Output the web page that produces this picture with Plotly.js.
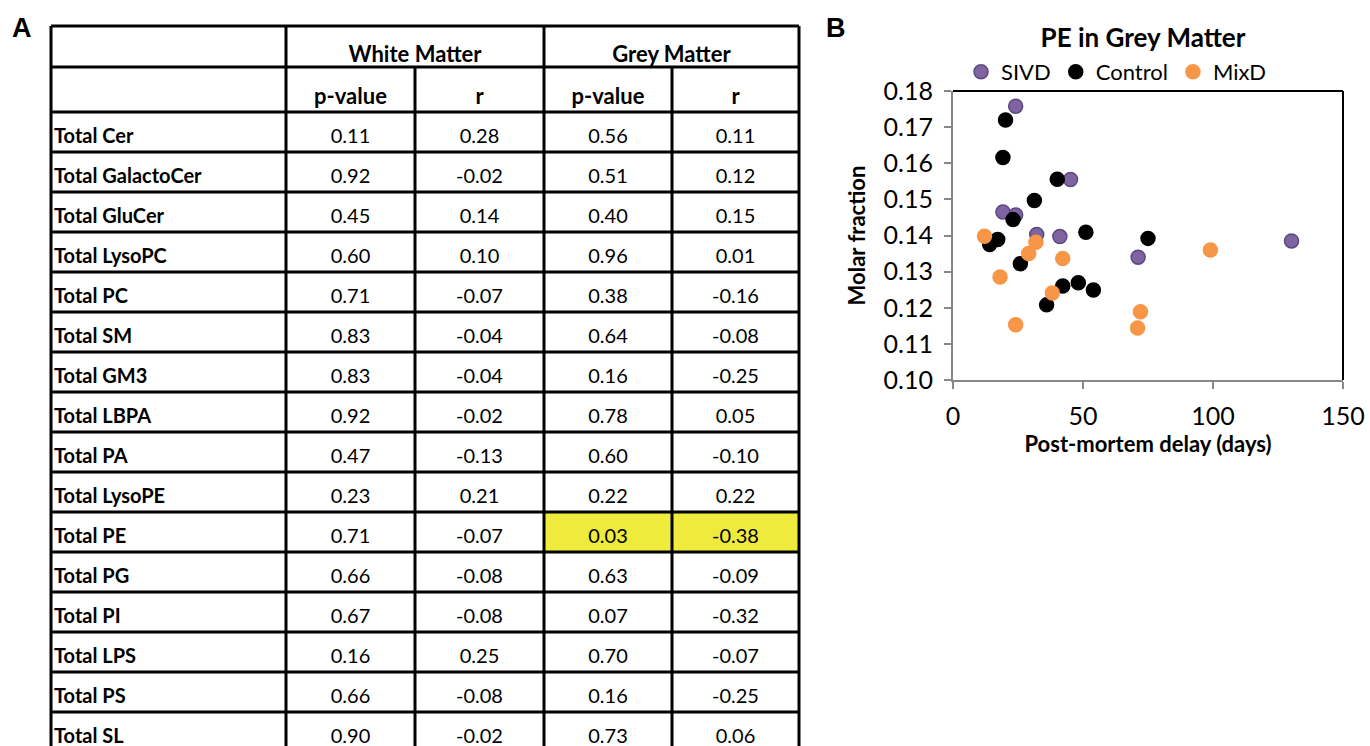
<!DOCTYPE html>
<html>
<head>
<meta charset="utf-8">
<script src="https://cdn.plot.ly/plotly-3.0.1.min.js"></script>
<style>html,body{margin:0;padding:0;overflow:hidden;background:#fff}</style>
</head>
<body>
<div id="chart" style="width:1370px;height:746px"></div>
<script>
// ---- Panel A: table data ----
const lipids = ["Total Cer","Total GalactoCer","Total GluCer","Total LysoPC","Total PC","Total SM","Total GM3","Total LBPA","Total PA","Total LysoPE","Total PE","Total PG","Total PI","Total LPS","Total PS","Total SL"];
const wmP = [0.11,0.92,0.45,0.60,0.71,0.83,0.83,0.92,0.47,0.23,0.71,0.66,0.67,0.16,0.66,0.90];
const wmR = [0.28,-0.02,0.14,0.10,-0.07,-0.04,-0.04,-0.02,-0.13,0.21,-0.07,-0.08,-0.08,0.25,-0.08,-0.02];
const gmP = [0.56,0.51,0.40,0.96,0.38,0.64,0.16,0.78,0.60,0.22,0.03,0.63,0.07,0.70,0.16,0.73];
const gmR = [0.11,0.12,0.15,0.01,-0.16,-0.08,-0.25,0.05,-0.10,0.22,-0.38,-0.09,-0.32,-0.07,-0.25,0.06];
const groupHeaders = ["White Matter","Grey Matter"];
const subHeaders = ["p-value","r","p-value","r"];

// ---- Panel B: scatter data (post-mortem delay in days, molar fraction) ----
const sivdX = [24.1,45.2,19.2,24.1,32.2,41.1,71.2,130.2];
const sivdY = [0.1758,0.1555,0.1465,0.1457,0.1403,0.1397,0.1340,0.1385];
const ctrlX = [20.2,19.2,40.1,31.3,23.1,51.1,17.2,14.1,75.0,25.9,48.2,42.2,54.0,36.0];
const ctrlY = [0.1720,0.1616,0.1556,0.1497,0.1444,0.1409,0.1389,0.1375,0.1392,0.1322,0.1269,0.1260,0.1249,0.1208];
const mixX = [12.1,31.9,29.1,42.2,99.0,18.1,38.2,72.1,24.1,71.0];
const mixY = [0.1398,0.1381,0.1350,0.1336,0.1360,0.1285,0.1241,0.1189,0.1153,0.1144];

// ---- geometry / style ----
const W = 1370, H = 746;
const fx = px => px / W;
const fy = py => 1 - py / H;
const FONT = "Lato, 'Open Sans', sans-serif";
const colWidths = [235,129,129,128,127];
const edges = [0]; colWidths.forEach(w => edges.push(edges[edges.length-1] + w));
const tableLeft = 51, tableTop = 26, rowPx = 40, firstDataTop = 112, header2Top = 67;
const pad = 3;
const yTop = -(firstDataTop - tableTop) / rowPx;      // header row 1 top (row units)
const yH2 = -(firstDataTop - header2Top) / rowPx;     // header row 2 top
const yBottom = (H - firstDataTop) / rowPx;
const nRows = lipids.length;
const centers = []; for (let i = 0; i < 5; i++) centers.push((edges[i] + edges[i+1]) / 2);
const fmt = v => v.toFixed(2);
const textOffset = 0.65;

const traces = [];
// table: values
const valCols = [wmP, wmR, gmP, gmR];
const vx = [], vy = [], vt = [];
valCols.forEach((col, c) => col.forEach((v, i) => { vx.push(centers[c+1]); vy.push(i + textOffset); vt.push(fmt(v)); }));
traces.push({type:'scatter', mode:'text', x:vx, y:vy, text:vt, textposition:'middle center',
  textfont:{family:FONT, size:20, color:'#000'}, xaxis:'x2', yaxis:'y2', hoverinfo:'skip', showlegend:false});
// table: row labels
traces.push({type:'scatter', mode:'text', x:lipids.map(() => edges[0] + 3), y:lipids.map((_, i) => i + textOffset), text:lipids,
  textposition:'middle right', textfont:{family:FONT, size:20, color:'#000', weight:'bold'},
  xaxis:'x2', yaxis:'y2', hoverinfo:'skip', showlegend:false});
// table: headers
traces.push({type:'scatter', mode:'text',
  x:[(edges[1]+edges[3])/2, (edges[3]+edges[5])/2].concat(centers.slice(1)),
  y:[yTop + 0.75*(yH2 - yTop), yTop + 0.75*(yH2 - yTop)].concat(subHeaders.map(() => yH2 + 0.71*(0 - yH2))),
  text:groupHeaders.concat(subHeaders), textposition:'middle center',
  textfont:{family:FONT, size:22, color:'#000', weight:'bold'},
  xaxis:'x2', yaxis:'y2', hoverinfo:'skip', showlegend:false});

// scatter
const mk = (x, y, name, fill, line) => ({type:'scatter', mode:'markers', x, y, name,
  marker:{size:14, color:fill, line:{color:line, width:1.5}}, xaxis:'x', yaxis:'y', hoverinfo:'x+y'});
traces.push(mk(sivdX, sivdY, 'SIVD', '#8064A2', '#5C4880'));
traces.push(mk(ctrlX, ctrlY, 'Control', '#000000', '#000000'));
traces.push(mk(mixX, mixY, 'MixD', '#F79646', '#F79646'));

// table shapes
const shapes = [];
const LW = 3;
// yellow highlight for significant Grey Matter cells
gmP.forEach((p, i) => { if (p < 0.05) {
  [3,4].forEach(c => shapes.push({type:'rect', xref:'x2', yref:'y2', x0:edges[c], x1:edges[c+1], y0:i, y1:i+1,
    fillcolor:'#EFEB3C', line:{width:0}, layer:'below'}));
}});
const hLines = [yTop, yH2]; for (let i = 0; i <= nRows; i++) hLines.push(i);
hLines.forEach(y => shapes.push({type:'line', xref:'x2', yref:'y2', x0:edges[0], x1:edges[5], y0:y, y1:y, line:{color:'#000', width:LW}}));
[0,1,3,5].forEach(c => shapes.push({type:'line', xref:'x2', yref:'y2', x0:edges[c], x1:edges[c], y0:yTop, y1:nRows, line:{color:'#000', width:LW}}));
[2,4].forEach(c => shapes.push({type:'line', xref:'x2', yref:'y2', x0:edges[c], x1:edges[c], y0:yH2, y1:nRows, line:{color:'#000', width:LW}}));
// scatter frame top/right
shapes.push({type:'line', xref:'x domain', yref:'y domain', x0:0, x1:1, y0:1, y1:1, line:{color:'#000', width:2}});
shapes.push({type:'line', xref:'x domain', yref:'y domain', x0:1, x1:1, y0:0, y1:1, line:{color:'#000', width:2}});

const plotL = 953, plotR = 1343, plotT = 91, plotB = 380;
const axisGray = '#878787';
const layout = {
  width:W, height:H, margin:{l:0, r:0, t:0, b:0}, paper_bgcolor:'#fff', plot_bgcolor:'rgba(0,0,0,0)',
  font:{family:FONT, color:'#000'},
  title:{text:'PE in Grey Matter', font:{family:FONT, size:26, weight:'bold', color:'#000'},
    x:fx(1143), xanchor:'center', y:fy(38), yanchor:'middle'},
  showlegend:true,
  legend:{orientation:'h', x:fx(982 - 21), xanchor:'left', y:fy(72), yanchor:'middle',
    font:{family:FONT, size:22, color:'#000'}, bgcolor:'rgba(0,0,0,0)', itemclick:false, tracegroupgap:0},
  xaxis:{domain:[fx(plotL), fx(plotR)], range:[0,150], dtick:50, showgrid:false, zeroline:false,
    showline:true, linecolor:axisGray, linewidth:2, ticks:'outside', ticklen:7, tickwidth:2, tickcolor:axisGray,
    tickfont:{family:FONT, size:25, color:'#000'}, ticklabelstandoff:6, automargin:false,
    title:{text:'Post-mortem delay (days)', font:{family:FONT, size:22, weight:'bold', color:'#000'}, standoff:6}},
  yaxis:{domain:[fy(plotB), fy(plotT)], range:[0.10,0.18], dtick:0.01, tickformat:'.2f', showgrid:false, zeroline:false,
    showline:true, linecolor:axisGray, linewidth:2, ticks:'outside', ticklen:7, tickwidth:2, tickcolor:axisGray,
    tickfont:{family:FONT, size:25, color:'#000'}, ticklabelstandoff:6, automargin:false,
    title:{text:'Molar fraction', font:{family:FONT, size:22, weight:'bold', color:'#000'}, standoff:12}},
  xaxis2:{domain:[fx(tableLeft - pad), fx(tableLeft + edges[5] + pad)], range:[-pad, edges[5] + pad], visible:false, fixedrange:true, automargin:false},
  yaxis2:{domain:[0, fy(tableTop - pad)], range:[yBottom, yTop - pad/rowPx], visible:false, fixedrange:true, automargin:false},
  shapes,
  annotations:[
    {text:'<b>A</b>', xref:'paper', yref:'paper', x:fx(22), y:fy(28), xanchor:'center', yanchor:'middle', showarrow:false,
      font:{family:"'Liberation Sans', Arial, sans-serif", size:27, color:'#000'}},
    {text:'<b>B</b>', xref:'paper', yref:'paper', x:fx(836), y:fy(28), xanchor:'center', yanchor:'middle', showarrow:false,
      font:{family:"'Liberation Sans', Arial, sans-serif", size:27, color:'#000'}}
  ]
};
Plotly.newPlot('chart', traces, layout, {displayModeBar:false, responsive:false});
</script>
</body>
</html>
